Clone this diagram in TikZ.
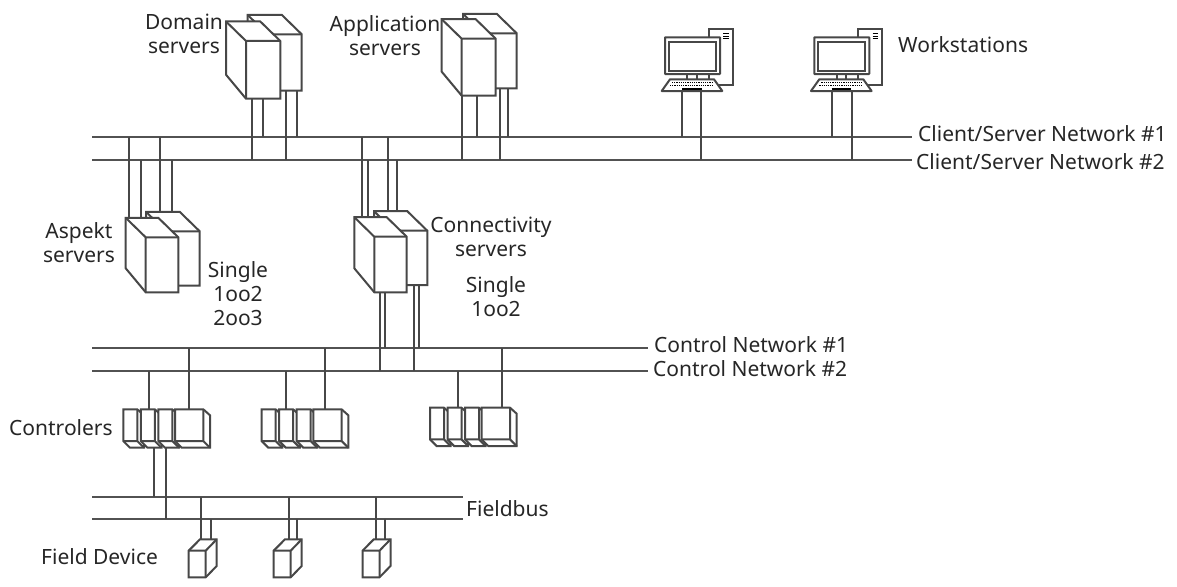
\documentclass[tikz,border=0pt]{standalone}
\usepackage{fontspec}
\setmainfont{Noto Sans}
\tikzset{
  bus/.style={line width=2pt,black!68},
  stub/.style={line width=2pt,black!72},
  box/.style={line width=2pt,black!72,fill=white,line join=miter},
  lbl/.style={inner sep=0pt,align=center,font=\fontsize{21}{24}\selectfont,black!85},
  pics/server/.style n args={2}{code={
    \draw[box](-20,-19.5)--(#1-20,-19.5)--(#1,0)--(#1,#2)--(0,#2)--(-20,#2-24)--cycle;
    \draw[box,fill=none](-20,-19.5)--(0,0)--(#1,0) (0,0)--(0,#2);
  }},
  pics/ctrl/.style={code={
    \draw[box](#1,0)--(#1+6.7,6)--(#1+6.7,38.4)--(6.7,38.4)--(0,31.7)--(0,0)--cycle;
    \draw[box,fill=none](0,31.7)--(#1,31.7)--(#1,0) (#1,31.7)--(#1+6.7,38.4);
  }},
  pics/rack/.style={code={
    \foreach \x in{0,17.5,35}{\pic at(\x,0){ctrl=14};}
    \pic at(51.7,0){ctrl=28.3};
  }},
  pics/device/.style={code={
    \draw[box](0,0)--(11.3,-11.4)--(28,-11.4)--(28,15.3)--(17,26.6)--(0,26.6)--cycle;
    \draw[box,fill=none](0,0)--(17,0)--(28,-11.4) (17,0)--(17,26.6);
  }},
  pics/station/.style={code={
    \draw[box](44,-8)rectangle(67.7,47.4);
    \foreach \y in{-3.3,-.7,1.7}{\draw[line width=1pt](58.3,\y)--(63.6,\y);}
    \draw[box](22.3,36)rectangle(32,43);
    \draw[box,rounded corners=.5pt](0,0)rectangle(55,36.7);
    \draw[box](4,4.4)rectangle(51,33.4);
    \draw[box,line join=round](5,42)--(49,42)--(57.3,53.7)--(-3.3,53.7)--cycle;
    \draw[line width=1.2pt,dash pattern=on 1.2pt off 1pt](7,45)--(47,45);
    \draw[line width=1.2pt,dash pattern=on 1.2pt off 1pt](5,48)--(49,48);
    \draw[line width=2pt](17.3,52)--(36.7,52);
  }},
}
\begin{document}
\begin{tikzpicture}[x=1pt,y=-1pt]
  \useasboundingbox(0,0)rectangle(1177,586);
  % network lines
  \foreach \n/\xa/\xb/\y in{cs1/92/912/136.7,cs2/92/912/160.3,cn1/92/648/348.3,cn2/92/648/371,fb1/92/463/497,fb2/92/463/519}{%
    \coordinate(\n w)at(\xa,\y);
    \coordinate(\n e)at(\xb,\y);
    \draw[bus](\n w)--(\n e);
  }
  % drops to the networks
  \foreach \n/\x/\y/\b in{
    da/251.7/99/cs2w,db/263/99/cs1w,dc/285.7/91/cs2w,dd/297/91/cs1w,
    aa/462.3/95.7/cs2w,ab/476.7/95.7/cs1w,ac/499.7/88/cs2w,ad/508/88/cs1w,
    wa/681.7/91/cs1w,wb/701/91/cs2w,wc/832.3/91/cs1w,wd/852.3/91/cs2w,
    pa/128.7/218/cs1w,pb/141/220/cs2w,pc/160.3/212/cs1w,pd/172/212/cs2w,
    ca/362.3/217.3/cs1w,cb/368.3/217.3/cs2w,cc/387.7/211/cs1w,cd/397/211/cs2w,
    ce/379.7/292.3/cn2w,cf/385.3/292.3/cn1w,cg/413.7/285/cn2w,ch/419.3/285/cn1w,
    ka/149/409.3/cn2w,kb/188.7/409.3/cn1w,kc/285.7/409.3/cn2w,kd/325.3/409.3/cn1w,
    ke/457.7/407.7/cn2w,kf/501.7/407.7/cn1w,
    kg/154.3/447/fb1w,kh/166.3/447/fb2w,
    fa/201.3/539.3/fb1w,fb/211/539.3/fb2w,fc/289.3/539.3/fb1w,fd/297.3/539.3/fb2w,
    fe/376/539.3/fb1w,ff/385.3/539.3/fb2w}{%
    \coordinate(\n)at(\x,\y);
    \draw[stub](\n)--(\n|-\b);
  }
  % servers
  \pic at(267.5,34.3){server={34.2}{56.4}};
  \pic at(246,41){server={34.3}{57.7}};
  \pic at(483,33.3){server={33.7}{55}};
  \pic at(461.7,38.7){server={34}{57}};
  \pic at(166,231.3){server={33.7}{54.4}};
  \pic at(145.7,237.3){server={32.6}{55}};
  \pic at(394,230.7){server={33.3}{54.3}};
  \pic at(374.3,236.7){server={32.4}{55.6}};
  % workstations
  \pic at(665,37.3){station};
  \pic at(814.3,37.3){station};
  % controllers
  \pic at(123.3,409.3){rack};
  \pic at(261.6,409.3){rack};
  \pic at(430,407.7){rack};
  % field devices
  \pic at(188.7,550.7){device};
  \pic at(273.7,550.7){device};
  \pic at(362.5,550.7){device};
  % labels
  \node[lbl](ldom)at(184,33.5){Domain\\servers};
  \node[lbl](lapp)at(385,36){Application\\servers};
  \node[lbl,anchor=west](lwork)at(898,45){Workstations};
  \node[lbl,anchor=west](lcs1)at(918,134){Client/Server Network \#1};
  \node[lbl,anchor=west](lcs2)at(916,162){Client/Server Network \#2};
  \node[lbl](lasp)at(79,242.5){Aspekt\\servers};
  \node[lbl](lsa)at(238,294){Single\\1oo2\\2oo3};
  \node[lbl](lcon)at(491,237){Connectivity\\servers};
  \node[lbl](lsb)at(496,297){Single\\1oo2};
  \node[lbl,anchor=west](lcn1)at(654,345){Control Network \#1};
  \node[lbl,anchor=west](lcn2)at(653,369){Control Network \#2};
  \node[lbl,anchor=west](lctl)at(9,428){Controlers};
  \node[lbl,anchor=west](lfb)at(466,509){Fieldbus};
  \node[lbl,anchor=west](lfd)at(41,557){Field Device};
\end{tikzpicture}
\end{document}
